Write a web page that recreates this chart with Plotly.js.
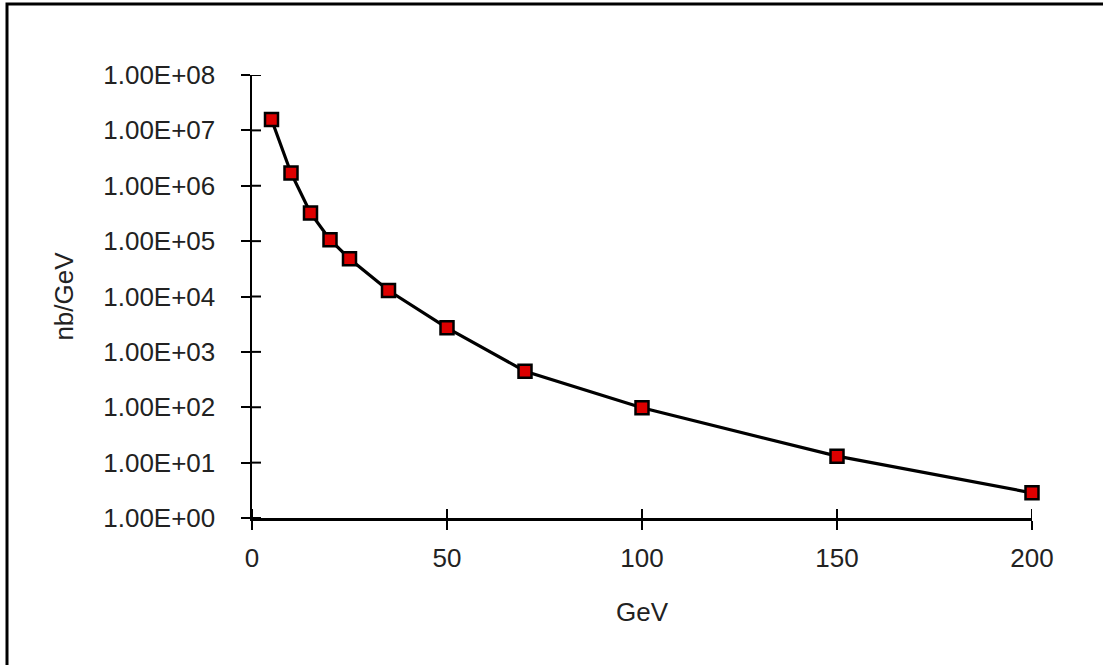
<!DOCTYPE html>
<html>
<head>
<meta charset="utf-8">
<script src="https://cdn.plot.ly/plotly-3.0.1.min.js"></script>
<style>
  html, body { margin: 0; padding: 0; background: #ffffff; }
  #chart { width: 1103px; height: 665px; }
</style>
</head>
<body>
<div id="chart"></div>
<script>
// Data
const energyGeV = [5, 10, 15, 20, 25, 35, 50, 70, 100, 150, 200];
const crossSection = [1.57e7, 1.70e6, 3.22e5, 1.06e5, 4.82e4, 1.28e4, 2.72e3, 448, 97.7, 13.1, 2.85];

const yTickValues = [1, 10, 100, 1000, 1e4, 1e5, 1e6, 1e7, 1e8];
const yTickLabels = ["1.00E+00", "1.00E+01", "1.00E+02", "1.00E+03", "1.00E+04",
                     "1.00E+05", "1.00E+06", "1.00E+07", "1.00E+08"];
const xTickValues = [0, 50, 100, 150, 200];
const xTickLabels = ["0", "50", "100", "150", "200"];

const xTitle = "GeV";
const yTitle = "nb/GeV";

const fontFamily = "Liberation Sans, Arial, sans-serif";
const textColor = "#222222";
const fontSize = 26;
const tickLen = 9;

const trace = {
  x: energyGeV,
  y: crossSection,
  type: "scatter",
  mode: "lines+markers",
  cliponaxis: false,
  line: { color: "#000000", width: 3.2 },
  marker: { symbol: "square", size: 13, color: "#dd0000", line: { color: "#000000", width: 2.5 } },
  hoverinfo: "x+y",
  showlegend: false
};

// inner half of the crossing tick marks (outer half comes from the axes themselves)
const innerTicks = [];
xTickValues.forEach(v => innerTicks.push({
  type: "line", xref: "x", yref: "paper",
  x0: v, x1: v,
  ysizemode: "pixel", yanchor: 0, y0: 0, y1: tickLen,
  line: { color: "#000000", width: 2 }
}));
yTickValues.forEach(v => innerTicks.push({
  type: "line", xref: "paper", yref: "y",
  y0: v, y1: v,
  xsizemode: "pixel", xanchor: 0, x0: 0, x1: tickLen,
  line: { color: "#000000", width: 2 }
}));

const frame = {
  type: "rect",
  xref: "paper", yref: "paper",
  x0: -0.3141, x1: 1.3, y0: -0.5, y1: 1.1603,
  line: { color: "#000000", width: 3 },
  fillcolor: "rgba(0,0,0,0)",
  layer: "below"
};

const layout = {
  width: 1103,
  height: 665,
  paper_bgcolor: "#ffffff",
  plot_bgcolor: "#ffffff",
  margin: { l: 252, r: 71, t: 75, b: 147, pad: 0 },
  font: { family: fontFamily, size: fontSize, color: textColor },
  showlegend: false,
  xaxis: {
    range: [0, 200],
    tickvals: xTickValues,
    ticktext: xTickLabels,
    ticks: "outside",
    ticklen: tickLen,
    tickwidth: 2,
    tickcolor: "#000000",
    showline: true,
    linecolor: "#000000",
    linewidth: 2.5,
    showgrid: false,
    zeroline: false,
    ticklabelstandoff: 6,
    tickfont: { family: fontFamily, size: fontSize, color: textColor },
    title: { text: xTitle, font: { family: fontFamily, size: fontSize, color: textColor }, standoff: 31 }
  },
  yaxis: {
    type: "log",
    range: [0, 8],
    tickvals: yTickValues,
    ticktext: yTickLabels,
    ticks: "outside",
    ticklen: tickLen,
    tickwidth: 2,
    tickcolor: "#000000",
    showline: true,
    linecolor: "#000000",
    linewidth: 2.5,
    showgrid: false,
    zeroline: false,
    ticklabelstandoff: 20,
    tickfont: { family: fontFamily, size: fontSize, color: textColor },
    title: { text: yTitle, font: { family: fontFamily, size: fontSize, color: textColor }, standoff: 22 }
  },
  shapes: [frame].concat(innerTicks)
};

Plotly.newPlot("chart", [trace], layout, { displayModeBar: false, staticPlot: true });
</script>
</body>
</html>
